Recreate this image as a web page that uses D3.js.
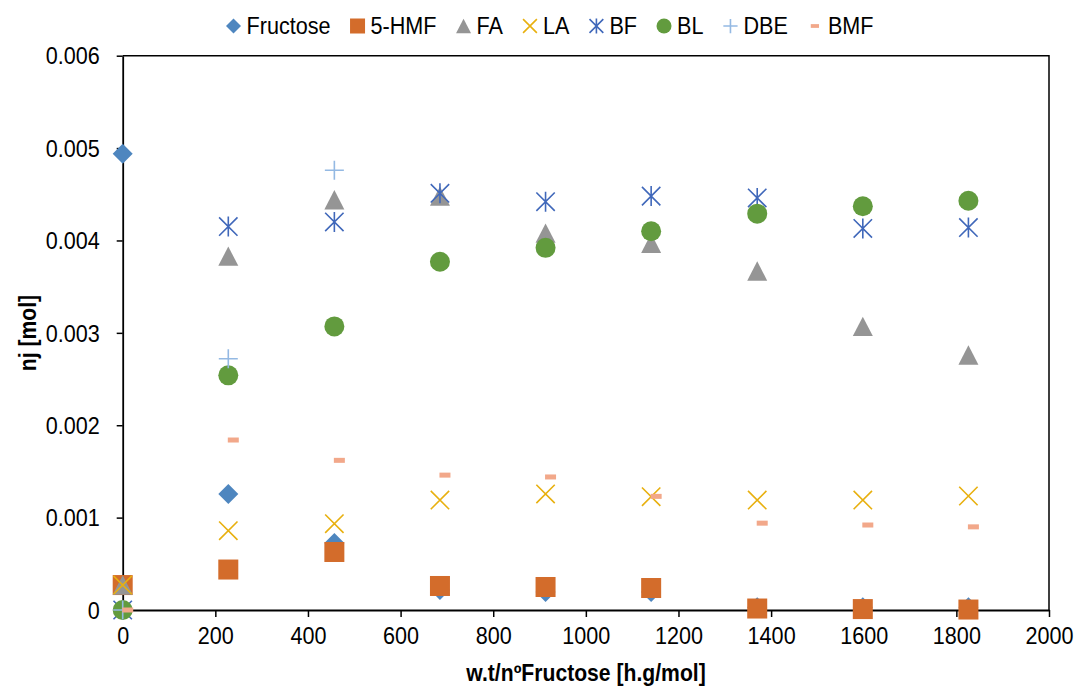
<!DOCTYPE html>
<html><head><meta charset="utf-8">
<script src="https://cdn.jsdelivr.net/npm/d3@7"></script>
<style>body{margin:0;background:#fff}svg{display:block}</style>
</head><body><svg id="c" width="1077" height="687"></svg>
<script>
// ---- data ----
const xValues = [0, 228, 457, 685, 913, 1141, 1370, 1598, 1826];
const fructose = [0.00494, 0.001256, 0.000725, 0.000216, 0.000195, 0.000195, 0.00003, 0.00003, 0.00003];
const hmf = [0.00027, 0.000438, 0.000628, 0.00026, 0.000249, 0.000238, 0.000016, 0.00001, 0.000005];
const fa = [0.00027, 0.00383, 0.00444, 0.00448, 0.00408, 0.00397, 0.00367, 0.00307, 0.00276];
const la = [0.00027, 0.000858, 0.000934, 0.00119, 0.001256, 0.001226, 0.00119, 0.00119, 0.001234];
const bf = [0, 0.00415, 0.0042, 0.00451, 0.00442, 0.00448, 0.00446, 0.00413, 0.00414];
const bl = [0, 0.00254, 0.00307, 0.00377, 0.00392, 0.0041, 0.00429, 0.00437, 0.00443];
const dbe = [0, 0.00272, 0.00476];
const bmf = [0, 0.00184, 0.00162, 0.00146, 0.00144, 0.00123, 0.00094, 0.00092, 0.0009];
const seriesNames = ["Fructose", "5-HMF", "FA", "LA", "BF", "BL", "DBE", "BMF"];
const xTicks = [0, 200, 400, 600, 800, 1000, 1200, 1400, 1600, 1800, 2000];
const yTicks = [0, 0.001, 0.002, 0.003, 0.004, 0.005, 0.006];
const yTickLabels = ["0", "0.001", "0.002", "0.003", "0.004", "0.005", "0.006"];
const xTitle = "w.t/nºFructose [h.g/mol]";
const yTitle = "nj [mol]";

// ---- styles ----
const series = [
  {name: seriesNames[0], values: fructose, shape: "diamond", color: "#4E86BF"},
  {name: seriesNames[1], values: hmf, shape: "square", color: "#D36C2B"},
  {name: seriesNames[2], values: fa, shape: "triangle", color: "#959595"},
  {name: seriesNames[3], values: la, shape: "x", color: "#E8B00F"},
  {name: seriesNames[4], values: bf, shape: "star", color: "#4068BA"},
  {name: seriesNames[5], values: bl, shape: "circle", color: "#629B3E"},
  {name: seriesNames[6], values: dbe, shape: "plus", color: "#94B9E3"},
  {name: seriesNames[7], values: bmf, shape: "dash", color: "#F2A88A"}
];

const FONT = "'Liberation Sans', Arial, sans-serif";
const SX = 0.92;      // horizontal squeeze of the text
const FS = 23.5;      // font size
const svg = d3.select("#c");
const L = 122.7, R = 1049, T = 55.7, B = 610;
const x = d3.scaleLinear().domain([0, 2000]).range([L, R]);
const y = d3.scaleLinear().domain([0, 0.006]).range([B, T]);

// frame (top + right)
svg.append("path").attr("d", `M${L},${T}H${R}V${B}`).attr("fill", "none")
  .attr("stroke", "#000").attr("stroke-width", 1.5);

const xAxis = svg.append("g").attr("transform", `translate(0,${B})`)
  .call(d3.axisBottom(x).tickValues(xTicks).tickFormat(d3.format("d")).tickSize(7).tickSizeOuter(0));
const yAxis = svg.append("g").attr("transform", `translate(${L},0)`)
  .call(d3.axisLeft(y).tickValues(yTicks).tickFormat((d, i) => yTickLabels[i]).tickSize(6).tickSizeOuter(0));
[xAxis, yAxis].forEach(a => {
  a.select(".domain").attr("stroke", "#000").attr("stroke-width", 1.8);
  a.selectAll(".tick line").attr("stroke", "#000").attr("stroke-width", 1.5);
  a.selectAll("text").attr("fill", "#000").style("font-family", FONT).style("font-size", FS + "px")
    .attr("transform", `scale(${SX},1)`);
});
xAxis.selectAll("text").attr("y", 26).attr("dy", "0.35em");
yAxis.selectAll("text").attr("x", -23 / SX).attr("dy", "0.35em");

// axis titles
svg.append("text").attr("transform", `translate(586,681) scale(${SX},1)`).attr("text-anchor", "middle")
  .style("font-family", FONT).style("font-size", "23px").style("font-weight", "bold").text(xTitle);
svg.append("text").attr("transform", `translate(36,333) rotate(-90) scale(${SX},1)`).attr("text-anchor", "middle")
  .style("font-family", FONT).style("font-size", "23px").style("font-weight", "bold").text(yTitle);

// marker drawing
function drawMarker(g, shape, color, k) {
  const h = 10 * k;
  switch (shape) {
    case "diamond":
      g.append("path").attr("d", `M0,${-h}L${h},0L0,${h}L${-h},0Z`).attr("fill", color); break;
    case "square":
      g.append("rect").attr("x", -h).attr("y", -h).attr("width", 2 * h).attr("height", 2 * h).attr("fill", color); break;
    case "triangle":
      g.append("path").attr("d", `M0,${-0.97 * h}L${h},${0.97 * h}L${-h},${0.97 * h}Z`).attr("fill", color); break;
    case "circle":
      g.append("circle").attr("r", h).attr("fill", color); break;
    case "x": {
      const a = 0.92 * h;
      g.append("path").attr("d", `M${-a},${-a}L${a},${a}M${-a},${a}L${a},${-a}`)
        .attr("stroke", color).attr("stroke-width", 1.6).attr("fill", "none"); break;
    }
    case "star": {
      const a = 0.92 * h;
      g.append("path").attr("d", `M${-a},${-a}L${a},${a}M${-a},${a}L${a},${-a}M0,${-h}L0,${h}`)
        .attr("stroke", color).attr("stroke-width", 1.6).attr("fill", "none"); break;
    }
    case "plus": {
      const a = 0.95 * h;
      g.append("path").attr("d", `M${-a},0L${a},0M0,${-a}L0,${a}`)
        .attr("stroke", color).attr("stroke-width", 1.6).attr("fill", "none"); break;
    }
    case "dash": {
      const off = k === 1 ? 5 : 0;
      g.append("rect").attr("x", off - 5.5 * k).attr("y", -2.5 * k).attr("width", 11 * k).attr("height", 5 * k)
        .attr("fill", color); break;
    }
  }
}

// points
series.forEach(s => {
  const gs = svg.append("g").attr("class", "series");
  s.values.forEach((v, i) => {
    const g = gs.append("g").attr("transform", `translate(${x(xValues[i])},${y(v)})`);
    drawMarker(g, s.shape, s.color, 1);
  });
});

// legend
const leg = svg.append("g");
let cx = 0;
series.forEach((s, i) => {
  const g = leg.append("g").attr("transform", `translate(${cx},0)`);
  drawMarker(g.append("g"), s.shape, s.color, 0.75);
  const t = g.append("text").attr("transform", `translate(13,0) scale(${SX},1)`).attr("dy", "0.35em")
    .style("font-family", FONT).style("font-size", FS + "px").attr("fill", "#000").text(s.name);
  const w = t.node().getComputedTextLength() * SX;
  cx += 13 + w + 27;
});
const totalW = cx - 27 + 8;
leg.attr("transform", `translate(${549.5 - totalW / 2 + 8},26)`);
</script></body></html>
